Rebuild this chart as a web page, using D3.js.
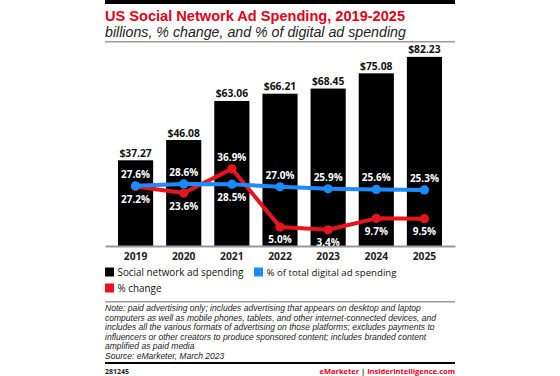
<!DOCTYPE html>
<html>
<head>
<meta charset="utf-8">
<script src="https://cdn.jsdelivr.net/npm/d3@7"></script>
<style>
  body { margin: 0; background: #fff; }
  svg { display: block; font-family: "Open Sans", "Liberation Sans", sans-serif; }
</style>
</head>
<body>
<svg id="chart" width="560" height="376"></svg>
<script>
const years = ["2019", "2020", "2021", "2022", "2023", "2024", "2025"];
const spending = [37.27, 46.08, 63.06, 66.21, 68.45, 75.08, 82.23];
const pctChange = [27.2, 23.6, 36.9, 5.0, 3.4, 9.7, 9.5];
const pctDigital = [27.6, 28.6, 28.5, 27.0, 25.9, 25.6, 25.3];
// which line gets its label above the dot
const changeAbove = [false, false, true, false, false, false, false];

const noteLines = [
  "Note: paid advertising only; includes advertising that appears on desktop and laptop",
  "computers as well as mobile phones, tablets, and other internet-connected devices, and",
  "includes all the various formats of advertising on those platforms; excludes payments to",
  "influencers or other creators to produce sponsored content; includes branded content",
  "amplified as paid media",
  "Source: eMarketer, March 2023"
];

const red = "#e8141c";
const blue = "#1b8cff";
const left = 105, right = 455;
const sansNarrow = "'Liberation Sans', Arial, sans-serif";

let svg = d3.select("#chart");

// scale a text's font size so it spans the given width
function fitWidth(sel, w) {
  let node = sel.node();
  let size = parseFloat(sel.attr("font-size"));
  let len = node.getComputedTextLength();
  sel.attr("font-size", (size * w / len).toFixed(2));
}

// header
svg.append("rect").attr("x", left).attr("y", 0).attr("width", right - left).attr("height", 4).attr("fill", "#000");
let title = svg.append("text").attr("x", left).attr("y", 20.5)
  .attr("font-family", sansNarrow)
  .attr("font-size", 15.5).attr("font-weight", 700).attr("fill", "#e4001b")
  .text("US Social Network Ad Spending, 2019-2025");
fitWidth(title, 300);
let sub = svg.append("text").attr("x", left).attr("y", 37)
  .attr("font-family", sansNarrow)
  .attr("font-size", 13.5).attr("font-style", "italic").attr("fill", "#222")
  .text("billions, % change, and % of digital ad spending");
fitWidth(sub, 301);
svg.append("rect").attr("x", left).attr("y", 41).attr("width", right - left).attr("height", 1.5).attr("fill", "#999");

let x = d3.scaleBand().domain(years).range([left, right]).padding(0.27);
let y = d3.scaleLinear().domain([0, 90]).range([246, 39]);
let yPct = d3.scaleLinear().domain([0, 40]).range([236, 163.2]);

let data = years.map((yr, i) => ({year: yr, spend: spending[i], change: pctChange[i], digital: pctDigital[i], changeAbove: changeAbove[i]}));

// bars
svg.append("g").selectAll("rect")
  .data(data)
  .enter()
  .append("rect")
  .attr("x", d => x(d.year))
  .attr("y", d => y(d.spend))
  .attr("width", x.bandwidth())
  .attr("height", d => y(0) - y(d.spend))
  .attr("fill", "#000");

svg.append("g").selectAll("text")
  .data(data)
  .enter()
  .append("text")
  .attr("x", d => x(d.year) + x.bandwidth() / 2)
  .attr("y", d => y(d.spend) - 3.5)
  .attr("text-anchor", "middle")
  .attr("font-size", 10.3).attr("font-weight", 700).attr("fill", "#111")
  .text(d => "$" + d.spend.toFixed(2));

// axis
let xAxis = d3.axisBottom(x).tickSize(0).tickPadding(7);
let axisG = svg.append("g")
  .attr("transform", "translate(0," + y(0) + ")")
  .call(xAxis);
axisG.select(".domain").attr("stroke", "#999").attr("stroke-width", 2);
axisG.selectAll("text").attr("font-size", 10.3).attr("font-weight", 700).attr("fill", "#222")
  .attr("font-family", "'Open Sans', 'Liberation Sans', sans-serif");

// lines
let cx = d => x(d.year) + x.bandwidth() / 2;
let lineChange = d3.line().x(cx).y(d => yPct(d.change));
let lineDigital = d3.line().x(cx).y(d => yPct(d.digital));

svg.append("path").datum(data).attr("d", lineChange)
  .attr("fill", "none").attr("stroke", red).attr("stroke-width", 4).attr("stroke-linejoin", "round");
svg.append("g").selectAll("circle").data(data).enter().append("circle")
  .attr("cx", cx).attr("cy", d => yPct(d.change)).attr("r", 4.6).attr("fill", red);

svg.append("path").datum(data).attr("d", lineDigital)
  .attr("fill", "none").attr("stroke", blue).attr("stroke-width", 4).attr("stroke-linejoin", "round");
svg.append("g").selectAll("circle").data(data).enter().append("circle")
  .attr("cx", cx).attr("cy", d => yPct(d.digital)).attr("r", 4.6).attr("fill", blue);

// line labels
svg.append("g").selectAll("text").data(data).enter().append("text")
  .attr("x", cx)
  .attr("y", d => d.changeAbove ? yPct(d.change) - 8 : yPct(d.change) + 16.5)
  .attr("text-anchor", "middle")
  .attr("font-size", 10).attr("font-weight", 700).attr("fill", "#fff")
  .text(d => d.change.toFixed(1) + "%");

svg.append("g").selectAll("text").data(data).enter().append("text")
  .attr("x", cx)
  .attr("y", d => d.changeAbove ? yPct(d.digital) + 16.5 : yPct(d.digital) - 8)
  .attr("text-anchor", "middle")
  .attr("font-size", 10).attr("font-weight", 700).attr("fill", "#fff")
  .text(d => d.digital.toFixed(1) + "%");

// legend
const legend = [
  {label: "Social network ad spending", color: "#000", lx: 105, ly: 272, w: 126},
  {label: "% of total digital ad spending", color: blue, lx: 254, ly: 272, w: 130},
  {label: "% change", color: red, lx: 105, ly: 288, w: 44}
];
let lg = svg.append("g").selectAll("g").data(legend).enter().append("g")
  .attr("transform", d => "translate(" + d.lx + "," + d.ly + ")");
lg.append("rect").attr("x", 0).attr("y", -4.5).attr("width", 9).attr("height", 9).attr("fill", d => d.color);
lg.append("text").attr("x", 12.5).attr("y", 4).attr("font-size", 11).attr("fill", "#111")
  .text(d => d.label)
  .each(function(d) { fitWidth(d3.select(this), d.w); });

svg.append("rect").attr("x", left).attr("y", 301).attr("width", right - left).attr("height", 1.5).attr("fill", "#999");

// note
let notes = svg.append("g").selectAll("text").data(noteLines).enter().append("text")
  .attr("x", left)
  .attr("y", (d, i) => 311 + i * 9.6)
  .attr("font-family", sansNarrow)
  .attr("font-size", 8).attr("font-style", "italic").attr("fill", "#222")
  .text(d => d);
// common size from the widest line, kept small enough for the line spacing
let noteLen = notes.nodes()[1].getComputedTextLength();
let noteSize = Math.min(8.55, 8 * 331 / noteLen);
notes.attr("font-size", noteSize.toFixed(2));
let grown = notes.nodes()[1].getComputedTextLength();
if (grown < 331) notes.attr("letter-spacing", ((331 - grown) / noteLines[1].length).toFixed(3));

svg.append("rect").attr("x", left).attr("y", 362).attr("width", right - left).attr("height", 2).attr("fill", "#000");
svg.append("text").attr("x", left).attr("y", 374).attr("font-size", 7).attr("font-weight", 700).attr("fill", "#222").text("281245");
let foot = svg.append("text").attr("x", right).attr("y", 374).attr("text-anchor", "end")
  .attr("font-size", 7.5).attr("font-weight", 700);
foot.append("tspan").attr("fill", "#e4001b").text("eMarketer");
foot.append("tspan").attr("fill", "#222").text("  |  ");
foot.append("tspan").attr("fill", "#e4001b").text("InsiderIntelligence.com");
</script>
</body>
</html>
